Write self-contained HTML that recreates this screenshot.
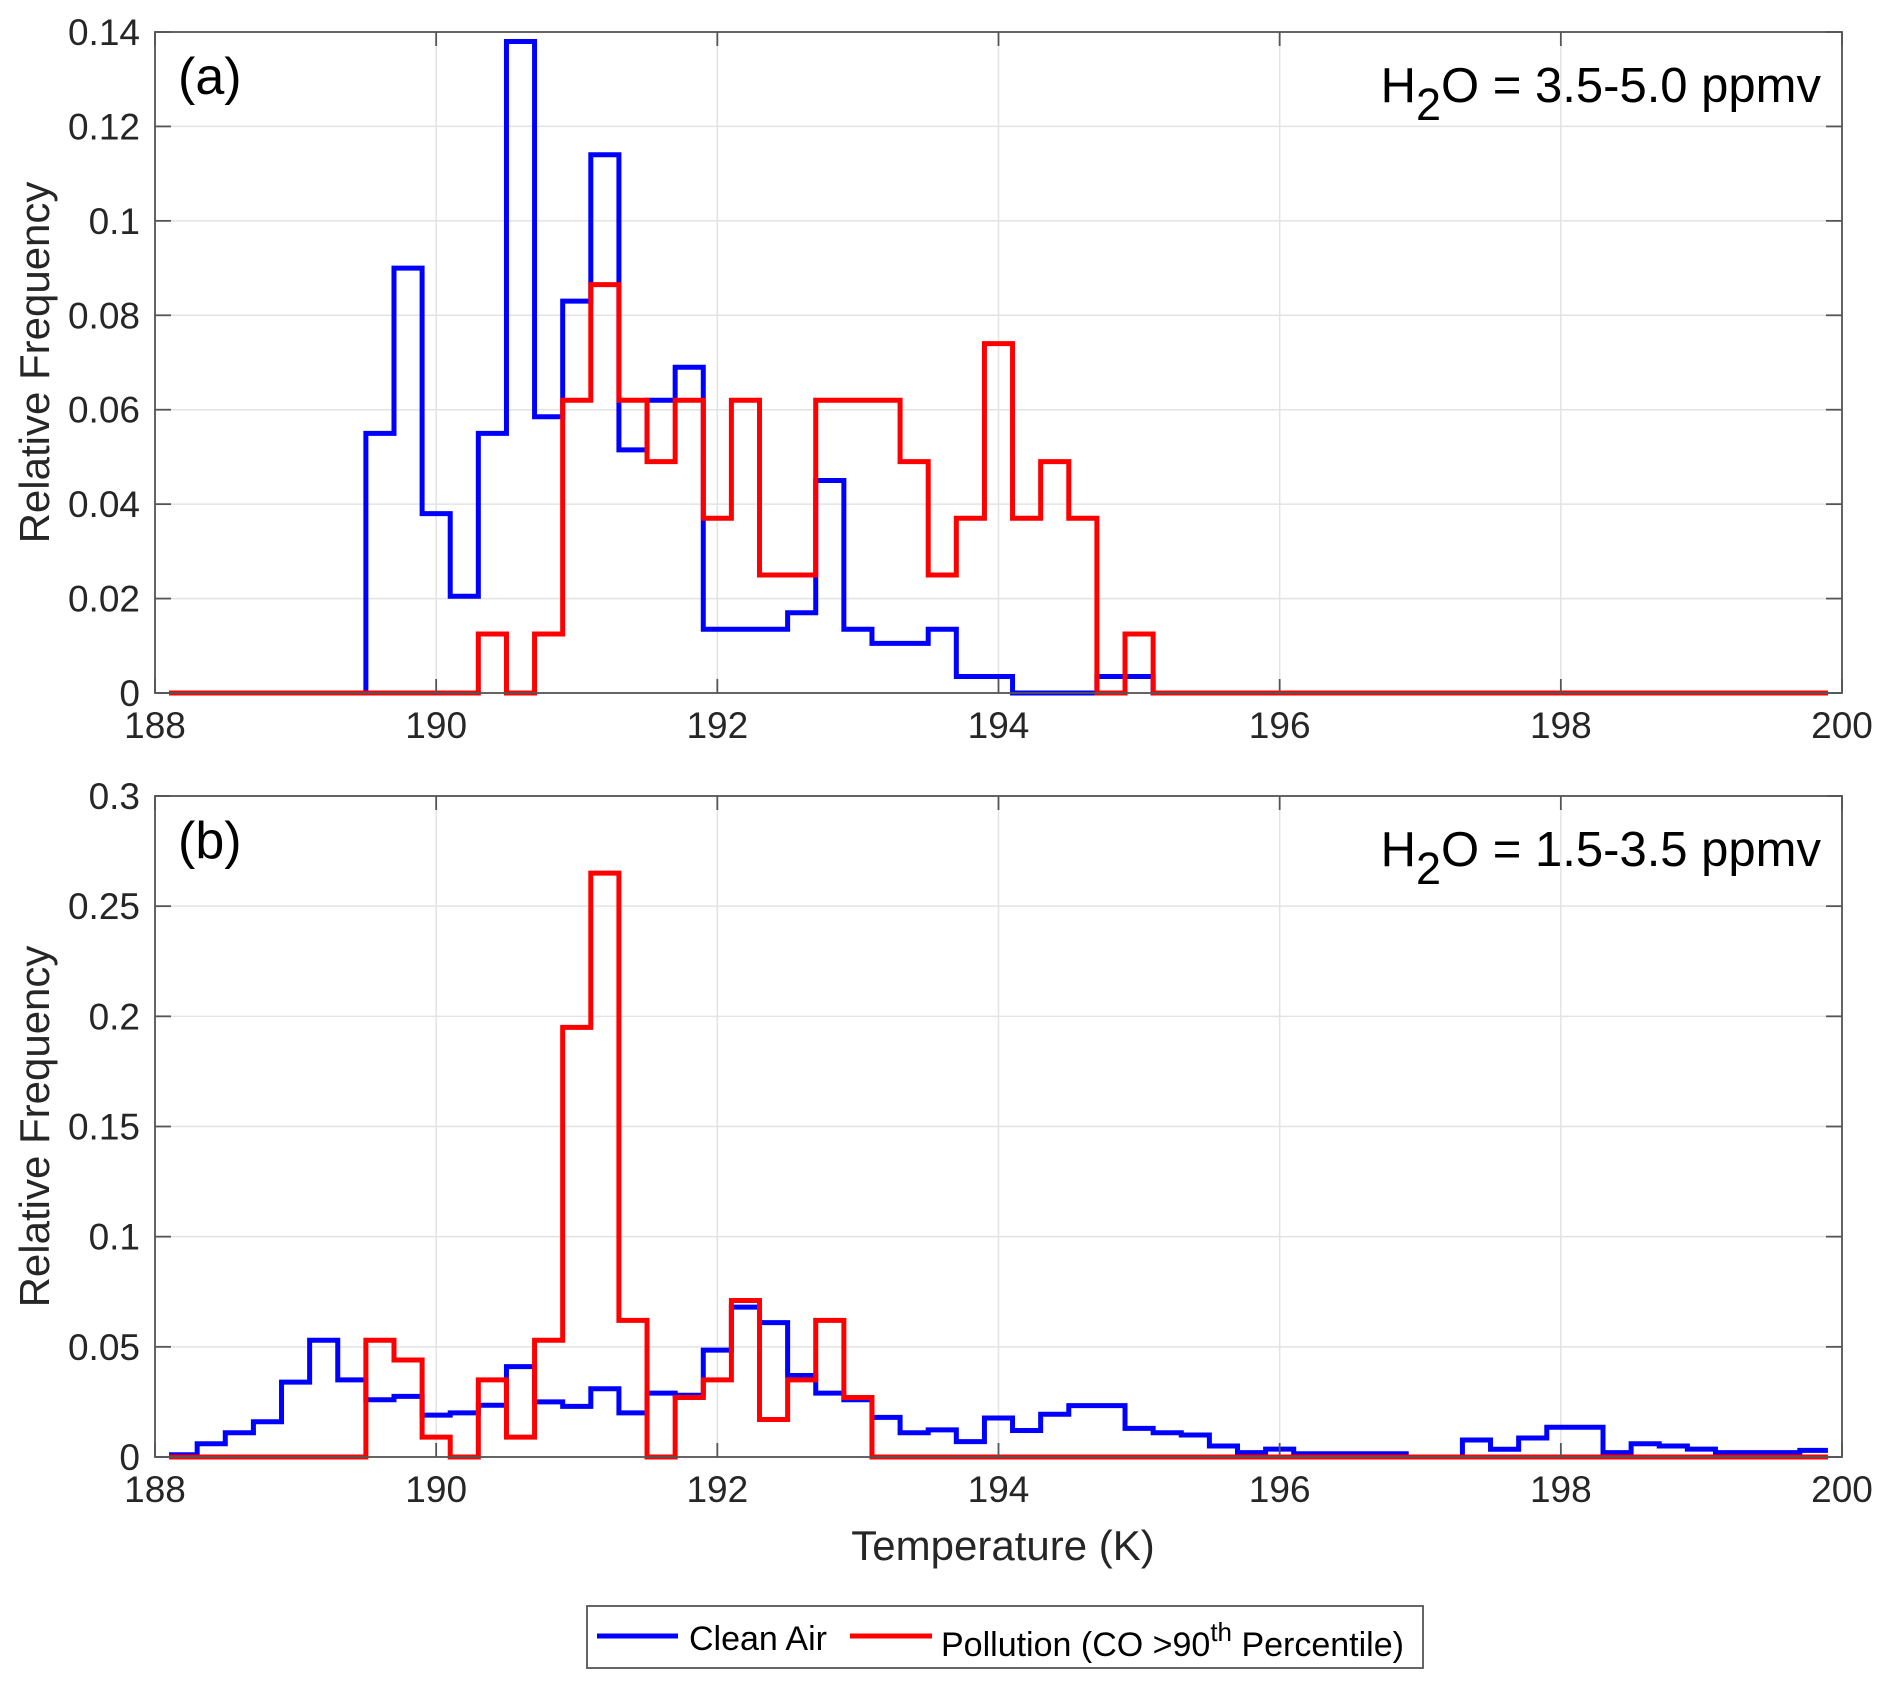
<!DOCTYPE html>
<html><head><meta charset="utf-8"><style>
html,body{margin:0;padding:0;background:#fff;}
svg{display:block;font-family:"Liberation Sans",Arial,sans-serif;}
</style></head><body>
<svg id="chart" width="1892" height="1688" viewBox="0 0 1892 1688" xmlns="http://www.w3.org/2000/svg"></svg>
<script>
const binStart = 188.1;
const binWidth = 0.2;
const xTicks = [188, 190, 192, 194, 196, 198, 200];
const xTickLabels = ["188", "190", "192", "194", "196", "198", "200"];
const yTicksA = [0, 0.02, 0.04, 0.06, 0.08, 0.1, 0.12, 0.14];
const yTickLabelsA = ["0", "0.02", "0.04", "0.06", "0.08", "0.1", "0.12", "0.14"];
const yTicksB = [0, 0.05, 0.1, 0.15, 0.2, 0.25, 0.3];
const yTickLabelsB = ["0", "0.05", "0.1", "0.15", "0.2", "0.25", "0.3"];
const cleanA = [0,0,0,0,0,0,0,0.055,0.090,0.038,0.0205,0.055,0.138,0.0585,0.083,0.114,0.0515,0.062,0.069,0.0135,0.0135,0.0135,0.017,0.045,0.0135,0.0105,0.0105,0.0135,0.0035,0.0035,0,0,0,0.0035,0.0035,0,0,0,0,0,0,0,0,0,0,0,0,0,0,0,0,0,0,0,0,0,0,0,0];
const pollA = [0,0,0,0,0,0,0,0,0,0,0,0.0125,0,0.0125,0.062,0.0865,0.062,0.049,0.062,0.037,0.062,0.025,0.025,0.062,0.062,0.062,0.049,0.025,0.037,0.074,0.037,0.049,0.037,0,0.0125,0,0,0,0,0,0,0,0,0,0,0,0,0,0,0,0,0,0,0,0,0,0,0,0];
const cleanB = [0.001,0.006,0.011,0.016,0.034,0.053,0.035,0.026,0.0275,0.019,0.020,0.0235,0.041,0.025,0.023,0.031,0.020,0.029,0.028,0.0485,0.068,0.061,0.037,0.029,0.026,0.018,0.011,0.0123,0.007,0.0177,0.012,0.0194,0.0233,0.0233,0.013,0.011,0.010,0.005,0.002,0.0036,0.0015,0.0015,0.0015,0.0015,0,0,0.0077,0.0035,0.0086,0.0135,0.0135,0.002,0.006,0.005,0.0036,0.002,0.002,0.002,0.003];
const pollB = [0,0,0,0,0,0,0,0.053,0.044,0.009,0,0.035,0.009,0.053,0.195,0.265,0.062,0,0.027,0.035,0.071,0.017,0.035,0.062,0.027,0,0,0,0,0,0,0,0,0,0,0,0,0,0,0,0,0,0,0,0,0,0,0,0,0,0,0,0,0,0,0,0,0,0];

const NS = "http://www.w3.org/2000/svg";
const svg = document.getElementById("chart");
const X0 = 155, X1 = 1842, XMIN = 188, XMAX = 200;
function xs(v){ return X0 + (v - XMIN) / (XMAX - XMIN) * (X1 - X0); }
function mk(tag, attrs, parent){
  const e = document.createElementNS(NS, tag);
  for (const k in attrs) e.setAttribute(k, attrs[k]);
  (parent || svg).appendChild(e);
  return e;
}

function panel(id, top, bottom, ymax, yTicks, yLabels, clean, poll, letter, h2oRange){
  const g = mk("g", {});
  
  
  const ys = v => bottom - v / ymax * (bottom - top);
  xTicks.forEach((t) => {
    const l = mk("line", {x1: xs(t), x2: xs(t), y1: top, y2: bottom, stroke: "#e3e3e3", "stroke-width": 1.5}, g);
    
    
  });
  yTicks.forEach((t) => {
    const l = mk("line", {x1: X0, x2: X1, y1: ys(t), y2: ys(t), stroke: "#e3e3e3", "stroke-width": 1.5}, g);
    
    
  });
  function stairs(vals, color, name){
    let d = "";
    vals.forEach((v, i) => {
      const a = xs(binStart + i * binWidth), b = xs(binStart + (i + 1) * binWidth);
      d += (i === 0 ? "M" : "L") + a.toFixed(2) + "," + ys(v).toFixed(2) + "L" + b.toFixed(2) + "," + ys(v).toFixed(2);
    });
    const p = mk("path", {d: d, fill: "none", stroke: color, "stroke-width": 5, "stroke-linejoin": "miter"}, g);
    
    
  }
  stairs(clean, "#0000ff", "clean-air-series-" + id);
  stairs(poll, "#ff0000", "pollution-series-" + id);
  const box = mk("rect", {x: X0, y: top, width: X1 - X0, height: bottom - top, fill: "none", stroke: "#555", "stroke-width": 1.8}, g);
  
  
  xTicks.forEach((t, i) => {
    mk("line", {x1: xs(t), x2: xs(t), y1: bottom, y2: bottom - 14, stroke: "#555", "stroke-width": 1.8}, g);
    mk("line", {x1: xs(t), x2: xs(t), y1: top, y2: top + 14, stroke: "#555", "stroke-width": 1.8}, g);
    const tx = mk("text", {x: xs(t), y: bottom + 45, "text-anchor": "middle", "font-size": 37, fill: "#262626"}, g);
    tx.textContent = xTickLabels[i];
    
    
  });
  yTicks.forEach((t, i) => {
    mk("line", {x1: X0, x2: X0 + 16, y1: ys(t), y2: ys(t), stroke: "#555", "stroke-width": 1.8}, g);
    mk("line", {x1: X1, x2: X1 - 16, y1: ys(t), y2: ys(t), stroke: "#555", "stroke-width": 1.8}, g);
    const tx = mk("text", {x: 140, y: ys(t) + 13, "text-anchor": "end", "font-size": 37, fill: "#262626"}, g);
    tx.textContent = yLabels[i];
    
    
  });
  const cy = (top + bottom) / 2;
  const yt = mk("text", {x: 49, y: cy, "text-anchor": "middle", "font-size": 42, fill: "#262626", transform: "rotate(-90 49 " + cy + ")"}, g);
  yt.textContent = "Relative Frequency";
  
  
  const lt = mk("text", {x: 178, y: top + 62, "font-size": 52, fill: "#000"}, g);
  lt.textContent = letter;
  
  
  const h = mk("text", {x: 1821, y: top + 70, "text-anchor": "end", "font-size": 49, fill: "#000"}, g);
  h.innerHTML = 'H<tspan dy="18" font-size="45">2</tspan><tspan dy="-18">O = ' + h2oRange + ' ppmv</tspan>';
  
  
}

panel("a", 32, 693, 0.14, yTicksA, yTickLabelsA, cleanA, pollA, "(a)", "3.5-5.0");
panel("b", 796, 1457, 0.3, yTicksB, yTickLabelsB, cleanB, pollB, "(b)", "1.5-3.5");

const xt = mk("text", {x: 1003, y: 1560, "text-anchor": "middle", "font-size": 42, fill: "#262626"});
xt.textContent = "Temperature (K)";



const lg = mk("g", {});


mk("rect", {x: 587, y: 1606, width: 836, height: 62, fill: "#fff", stroke: "#555", "stroke-width": 1.8}, lg);
const l1 = mk("line", {x1: 597, x2: 678, y1: 1636, y2: 1636, stroke: "#0000ff", "stroke-width": 5}, lg);


const t1 = mk("text", {x: 689, y: 1650, "font-size": 34, fill: "#000"}, lg);
t1.textContent = "Clean Air";


const l2 = mk("line", {x1: 850, x2: 932, y1: 1636, y2: 1636, stroke: "#ff0000", "stroke-width": 5}, lg);


const t2 = mk("text", {x: 941, y: 1656, "font-size": 34, fill: "#000"}, lg);
t2.innerHTML = 'Pollution (CO &gt;90<tspan dy="-15" font-size="26">th</tspan><tspan dy="15"> Percentile)</tspan>';


</script>
</body></html>
